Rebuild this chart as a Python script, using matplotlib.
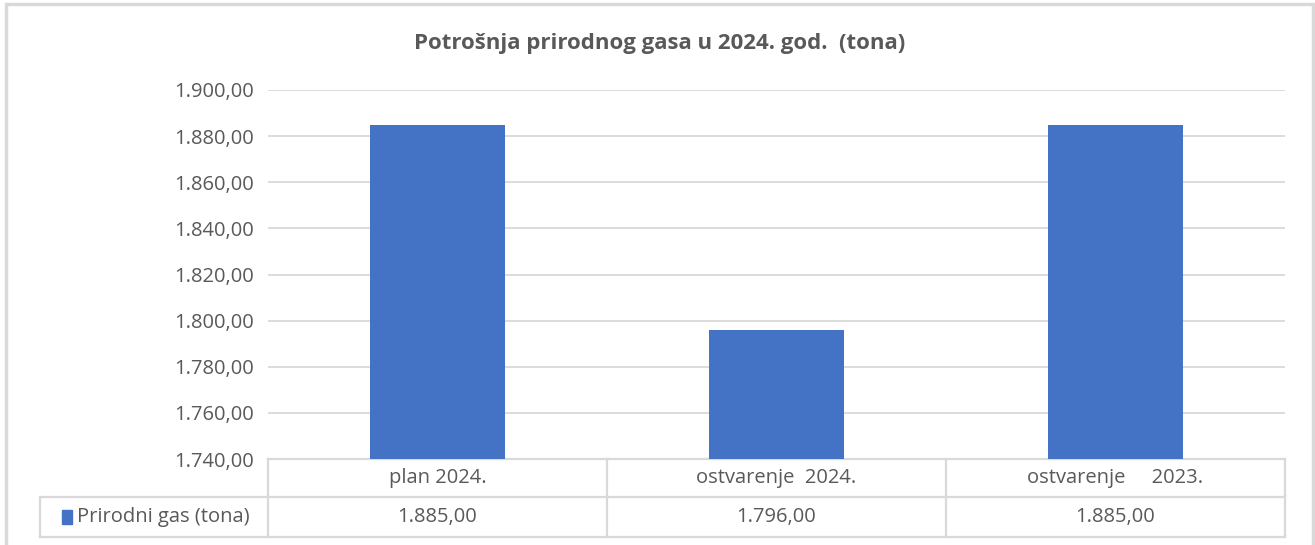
import matplotlib
matplotlib.use("Agg")
import matplotlib.pyplot as plt
from matplotlib.patches import Rectangle
from matplotlib.transforms import blended_transform_factory
from matplotlib.ticker import FuncFormatter, MultipleLocator

categories = ["plan 2024.", "ostvarenje  2024.", "ostvarenje     2023."]
values = [1885.00, 1796.00, 1885.00]
series_name = "Prirodni gas (tona)"
title = "Potrošnja prirodnog gasa u 2024. god.  (tona)"

BAR = "#4472c4"
TXT = "#595959"
GRID = "#d9d9d9"
FONT = ["Open Sans", "DejaVu Sans"]

W, H = 1315, 545


def fmt(v, pos=None):
    s = f"{v:,.2f}"
    return s.replace(",", "X").replace(".", ",").replace("X", ".")


fig = plt.figure(figsize=(W / 100, H / 100), dpi=100)
plt.rcParams["font.family"] = FONT

# outer chart border
fig.add_artist(Rectangle((6 / W, -0.1), (1313 - 6) / W, (H - 4) / H + 0.1,
                         transform=fig.transFigure, fill=False,
                         edgecolor=GRID, lw=2.5))

x0, x1 = 268, 1285
y_top, y_bot = 90, 459
ax = fig.add_axes([x0 / W, 1 - y_bot / H, (x1 - x0) / W, (y_bot - y_top) / H])

xs = range(len(categories))
ax.bar(xs, values, width=0.4, color=BAR, zorder=3)
ax.set_xlim(-0.5, len(categories) - 0.5)
ax.set_ylim(1740, 1900)
ax.yaxis.set_major_locator(MultipleLocator(20))
ax.yaxis.set_major_formatter(FuncFormatter(fmt))
ax.grid(axis="y", color=GRID, lw=1.3, zorder=0)
for s in ax.spines.values():
    s.set_visible(False)
ax.tick_params(axis="y", length=0, pad=10, labelsize=14.5, labelcolor=TXT)
ax.set_xticks([])

fig.text(660 / W, 1 - 44 / H, title, ha="center", va="center",
         fontsize=16, fontweight="bold", color=TXT)

# data table below the axes
tr = blended_transform_factory(ax.transData, ax.transAxes)
ph = y_bot - y_top
r1 = -(497 - y_bot) / ph
r2 = -(537 - y_bot) / ph
left = -0.5 - (x0 - 40) / ((x1 - x0) / len(categories))
n = len(categories)
kw = dict(color=GRID, lw=1.6, transform=tr, clip_on=False)
ax.plot([-0.5, n - 0.5], [0, 0], **kw)
ax.plot([left, n - 0.5], [r1, r1], **kw)
ax.plot([left, n - 0.5], [r2, r2], **kw)
ax.plot([left, left], [r1, r2], **kw)
for i in range(n + 1):
    ax.plot([i - 0.5, i - 0.5], [0, r2], **kw)

for i, (c, v) in enumerate(zip(categories, values)):
    ax.text(i, r1 / 2, c, transform=tr, ha="center", va="center",
            fontsize=14.5, color=TXT)
    ax.text(i, (r1 + r2) / 2, fmt(v), transform=tr, ha="center", va="center",
            fontsize=14.5, color=TXT)

ax.add_patch(Rectangle((left + 0.065, (r1 + r2) / 2 - 0.018), 0.03, 0.036,
                       transform=tr, color=BAR, clip_on=False))
ax.text(left + 0.11, (r1 + r2) / 2, series_name, transform=tr, ha="left",
        va="center", fontsize=14.5, color=TXT)

fig.savefig("out.png", dpi=100)
